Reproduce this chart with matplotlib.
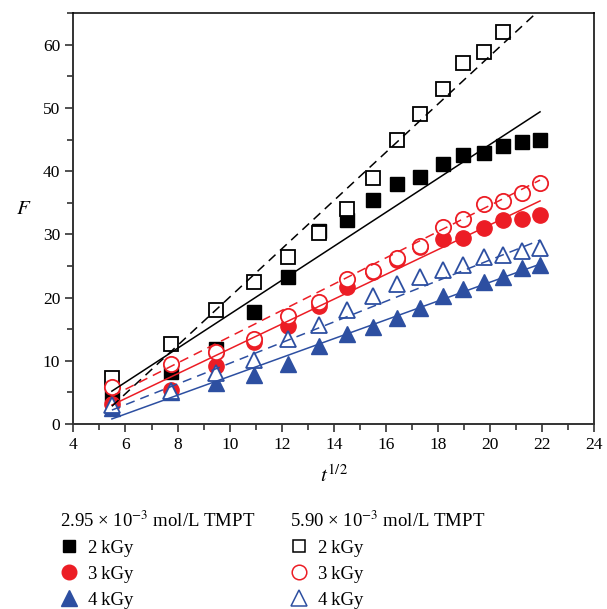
import matplotlib
matplotlib.use("Agg")
import matplotlib.pyplot as plt
from matplotlib.lines import Line2D
from matplotlib.ticker import MultipleLocator

plt.rcParams['font.family'] = ['Liberation Serif', 'DejaVu Serif']
plt.rcParams['mathtext.fontset'] = 'stix'

# square root of time (t = 30 ... 480 in steps of 30)
t_sqrt = [5.48, 7.75, 9.49, 10.95, 12.25, 13.42, 14.49, 15.49,
          16.43, 17.32, 18.17, 18.97, 19.75, 20.49, 21.21, 21.91]

# 2.95e-3 mol/L TMPT
F_low_2kGy = [4.6, 8.3, 11.8, 17.7, 23.3, 30.5, 32.3, 35.5,
              38.0, 39.1, 41.1, 42.5, 42.9, 44.0, 44.6, 45.0]
F_low_3kGy = [3.1, 5.4, 9.1, 13.0, 15.5, 18.6, 21.7, 24.0,
              26.0, 28.0, 29.2, 29.5, 31.0, 32.3, 32.5, 33.1]
F_low_4kGy = [2.6, 5.0, 6.5, 7.8, 9.5, 12.3, 14.3, 15.3,
              16.7, 18.3, 20.2, 21.4, 22.4, 23.3, 24.7, 25.2]

# 5.90e-3 mol/L TMPT (2 kGy run stops after 14 points)
F_high_2kGy = [7.3, 12.7, 18.1, 22.5, 26.5, 30.3, 34.0, 39.0,
               44.9, 49.0, 53.0, 57.1, 58.9, 62.0]
F_high_3kGy = [5.8, 9.5, 11.4, 13.4, 17.1, 19.3, 22.9, 24.2,
               26.2, 28.1, 31.2, 32.4, 34.8, 35.3, 36.6, 38.2]
F_high_4kGy = [3.0, 5.2, 8.1, 10.1, 13.4, 15.7, 18.1, 20.3,
               22.2, 23.2, 24.3, 25.2, 26.4, 26.7, 27.4, 27.8]

# linear fits, value at first and last sqrt(t)
fit_x = [5.48, 21.91]
fit_low_2kGy = [5.2, 49.4]
fit_low_3kGy = [3.0, 35.3]
fit_low_4kGy = [0.8, 25.3]
fit_high_2kGy = [2.8, 65.6]
fit_high_3kGy = [4.4, 38.6]
fit_high_4kGy = [2.2, 29.1]

black = '#000000'
red = '#EC1D25'
blue = '#2D4FA1'

fig = plt.figure(figsize=(6.07, 6.09), dpi=100)
ax = fig.add_axes([0.1208, 0.3038, 0.8586, 0.6744])

ms = 10
n = len(F_high_2kGy)
ax.plot(t_sqrt, F_low_2kGy, 's', color=black, ms=ms, zorder=2)
ax.plot(t_sqrt, F_low_3kGy, 'o', color=red, ms=ms + 1, zorder=2)
ax.plot(t_sqrt, F_low_4kGy, '^', color=blue, ms=ms + 1, zorder=2)
ax.plot(t_sqrt[:n], F_high_2kGy, 's', mfc='white', mec=black, mew=1.3, ms=ms, zorder=3)
ax.plot(t_sqrt, F_high_3kGy, 'o', mfc='white', mec=red, mew=1.3, ms=ms + 1, zorder=3)
ax.plot(t_sqrt, F_high_4kGy, '^', mfc='white', mec=blue, mew=1.3, ms=ms + 1, zorder=3)

lw = 1.1
ax.plot(fit_x, fit_low_2kGy, '-', color=black, lw=lw, zorder=4)
ax.plot(fit_x, fit_low_3kGy, '-', color=red, lw=lw, zorder=4)
ax.plot(fit_x, fit_low_4kGy, '-', color=blue, lw=lw, zorder=4)
ax.plot(fit_x, fit_high_2kGy, '--', color=black, lw=lw, dashes=(6, 4), zorder=4)
ax.plot(fit_x, fit_high_3kGy, '--', color=red, lw=lw, dashes=(6, 4), zorder=4)
ax.plot(fit_x, fit_high_4kGy, '--', color=blue, lw=lw, dashes=(6, 4), zorder=4)

ax.set_xlim(4, 24)
ax.set_ylim(0, 65)
ax.xaxis.set_major_locator(MultipleLocator(2))
ax.xaxis.set_minor_locator(MultipleLocator(1))
ax.yaxis.set_major_locator(MultipleLocator(10))
ax.yaxis.set_minor_locator(MultipleLocator(5))
ax.tick_params(which='both', direction='out', top=False, right=False,
               width=1.2, color='#333333', labelsize=12.5)
ax.tick_params(which='major', length=6)
ax.tick_params(which='minor', length=4)
for side in ax.spines.values():
    side.set_linewidth(1.4)
    side.set_color('#333333')
ax.spines['top'].set_color('black')
ax.spines['top'].set_linewidth(1.1)

ax.set_xlabel('$t^{1/2}$', fontsize=15, labelpad=9)
ax.set_ylabel('$F$', fontsize=15, rotation=0, labelpad=12)
ax.yaxis.set_label_coords(-0.095, 0.5)

handles_low = [
    Line2D([], [], ls='none', marker='s', color=black, ms=9),
    Line2D([], [], ls='none', marker='o', color=red, ms=10.5),
    Line2D([], [], ls='none', marker='^', color=blue, ms=12),
]
handles_high = [
    Line2D([], [], ls='none', marker='s', mfc='white', mec=black, mew=1.1, ms=9),
    Line2D([], [], ls='none', marker='o', mfc='white', mec=red, mew=1.1, ms=10.5),
    Line2D([], [], ls='none', marker='^', mfc='white', mec=blue, mew=1.1, ms=12),
]
labels = ['2\u2009kGy', '3\u2009kGy', '4\u2009kGy']

leg_kw = dict(frameon=False, fontsize=13.5, title_fontsize=13.5, alignment='left',
              handlelength=1.0, handletextpad=0.5, labelspacing=0.48,
              borderpad=0, borderaxespad=0, loc='upper left')
leg1 = fig.legend(handles_low, labels,
                  title='2.95 \u00d7 10$^{-3}$ mol/L TMPT',
                  bbox_to_anchor=(0.099, 0.162), **leg_kw)
leg2 = fig.legend(handles_high, labels,
                  title='5.90 \u00d7 10$^{-3}$ mol/L TMPT',
                  bbox_to_anchor=(0.477, 0.162), **leg_kw)

fig.savefig('out.png', dpi=100)
